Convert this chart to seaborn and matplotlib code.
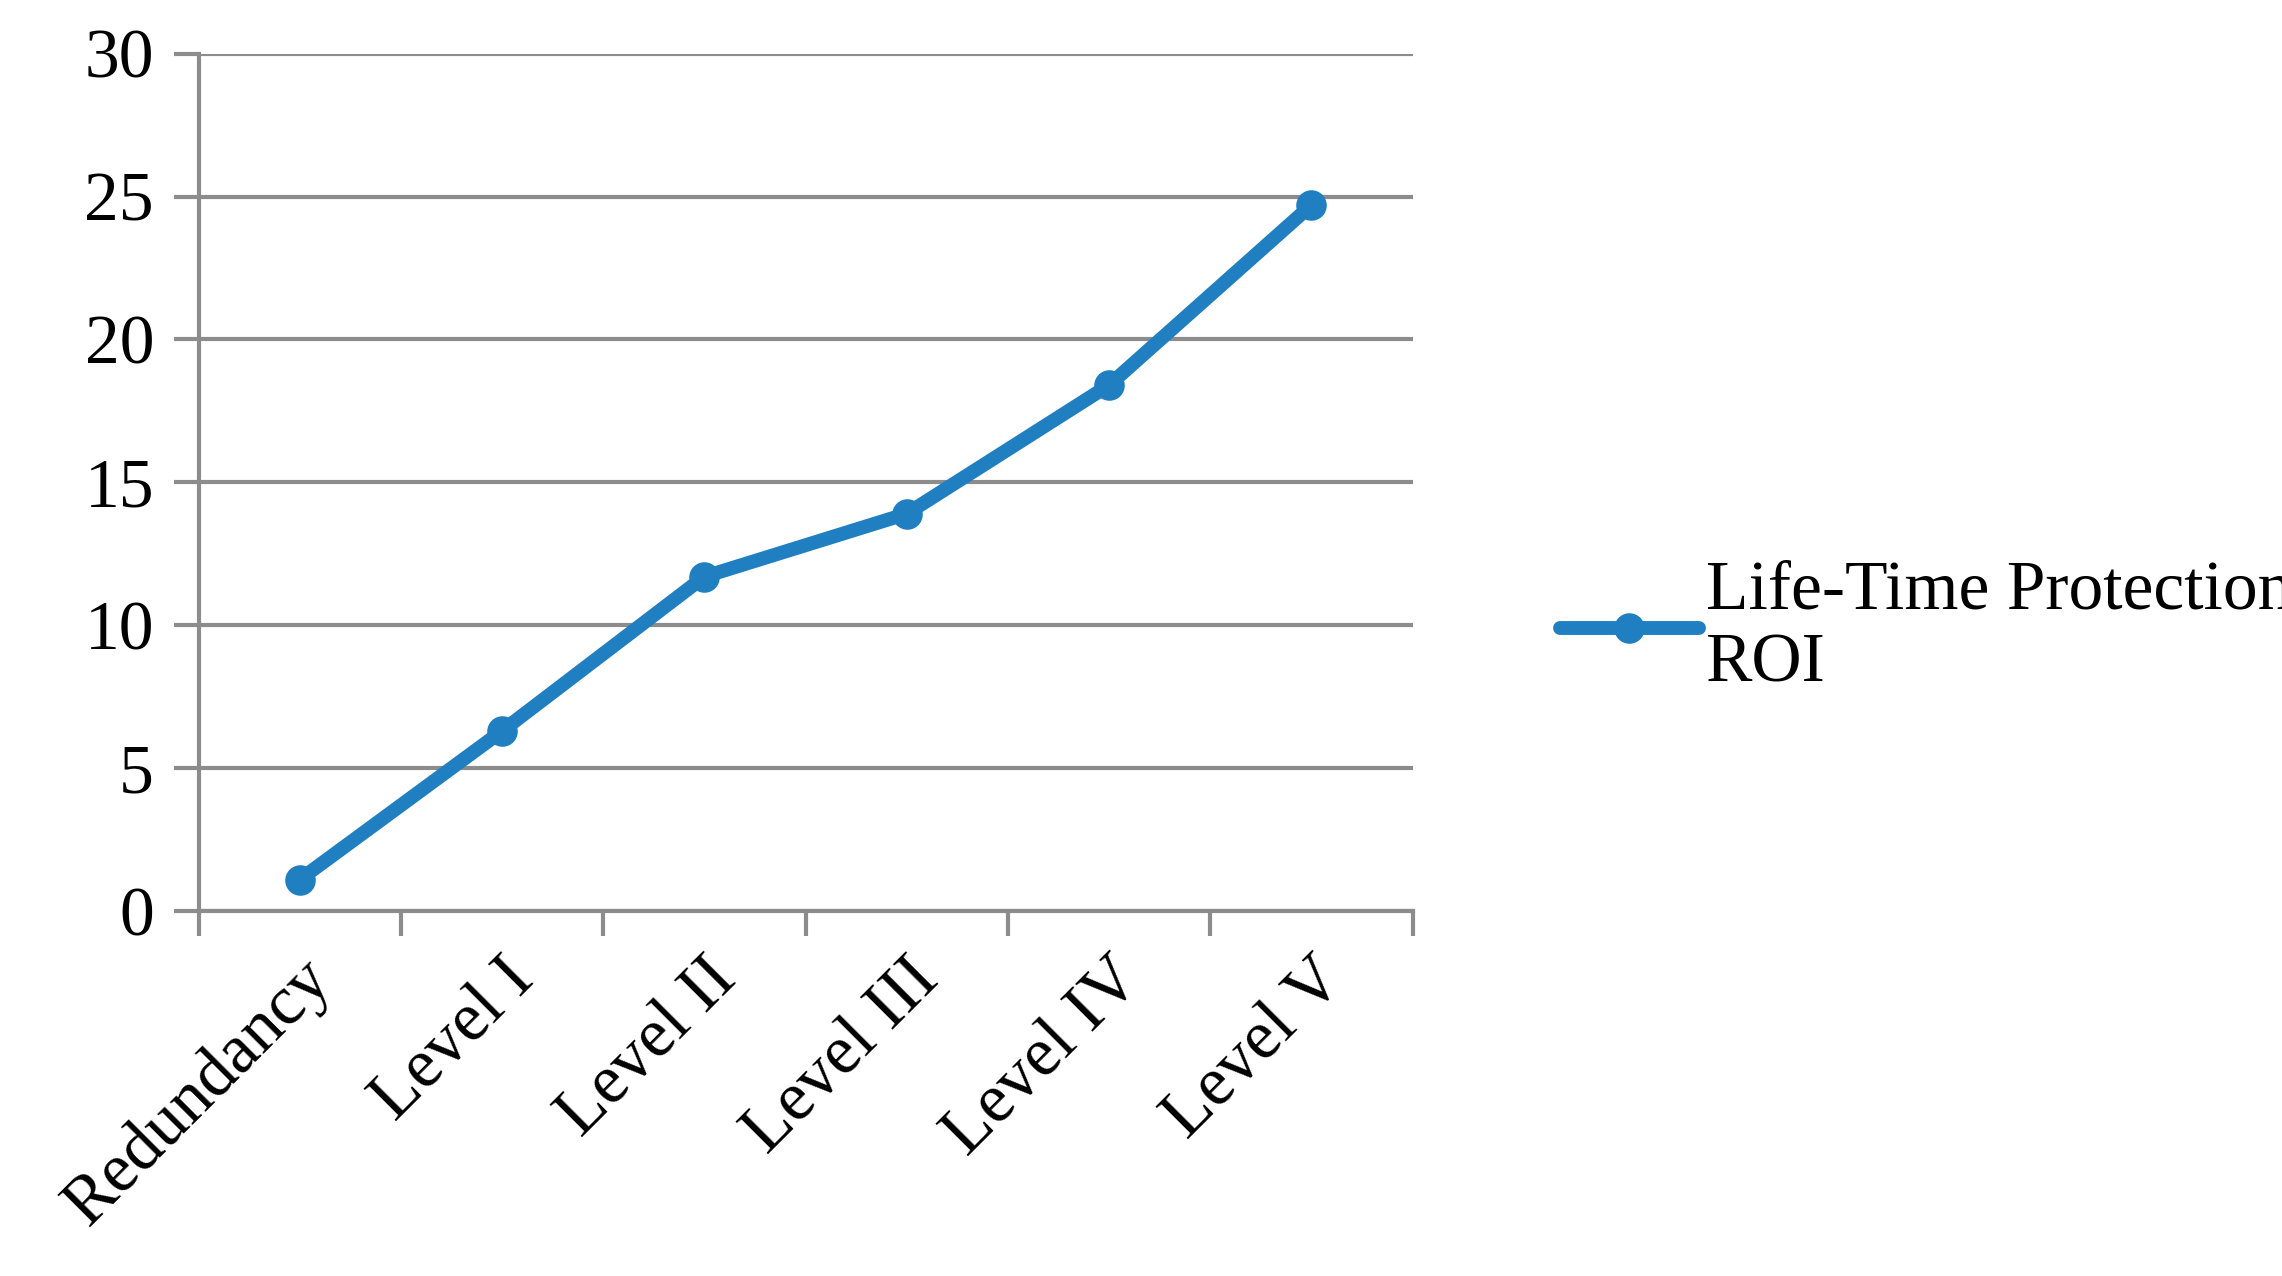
import matplotlib.pyplot as plt
import seaborn as sns
import pandas as pd

# chart data
levels = ["Redundancy", "Level I", "Level II", "Level III", "Level IV", "Level V"]
roi = [1.1, 6.3, 11.7, 13.9, 18.4, 24.7]

df = pd.DataFrame({"pos": range(len(levels)), "roi": roi})

sns.set_style("white")
plt.rcParams["font.family"] = ["Liberation Serif", "DejaVu Serif"]
plt.rcParams["text.color"] = "black"
plt.rcParams["xtick.color"] = "black"
plt.rcParams["ytick.color"] = "black"

fig = plt.figure(figsize=(22.82, 12.76), dpi=100)
ax = fig.add_axes([0.087, 0.286, 0.532, 0.672])

sns.lineplot(x="pos", y="roi", data=df, ax=ax, color="#1f7fc1", linewidth=10,
             marker="o", markersize=22, markeredgewidth=0,
             label="Life-Time Protection\nROI")

ax.set_xlim(-0.5, len(levels) - 0.5)
ax.set_ylim(0, 30)
ax.set_yticks(range(0, 31, 5))
ax.yaxis.grid(True, color="#8c8c8c", linewidth=3)
ax.set_xticks([i - 0.5 for i in range(len(levels) + 1)])
ax.set_xticklabels([])
ax.set_xticks(range(len(levels)), minor=True)
ax.set_xticklabels(levels, minor=True, rotation=45, ha="right", rotation_mode="anchor")
ax.tick_params(axis="x", which="major", length=18, width=3, color="#8c8c8c", direction="out", bottom=True)
ax.tick_params(axis="x", which="minor", length=0, labelsize=50, pad=26)
ax.tick_params(axis="y", length=18, width=3, color="#8c8c8c", direction="out", left=True, labelsize=50, pad=14)
for s in ["top", "right"]:
    ax.spines[s].set_visible(False)
for s in ["left", "bottom"]:
    ax.spines[s].set_color("#8c8c8c")
    ax.spines[s].set_linewidth(3)
ax.set_xlabel("")
ax.set_ylabel("")

ax.legend(loc="center left", bbox_to_anchor=(1.07, 0.33), frameon=False,
          fontsize=50, handlelength=2.0, handletextpad=0.1, labelspacing=0.1)

fig.savefig("out.png", dpi=100)
